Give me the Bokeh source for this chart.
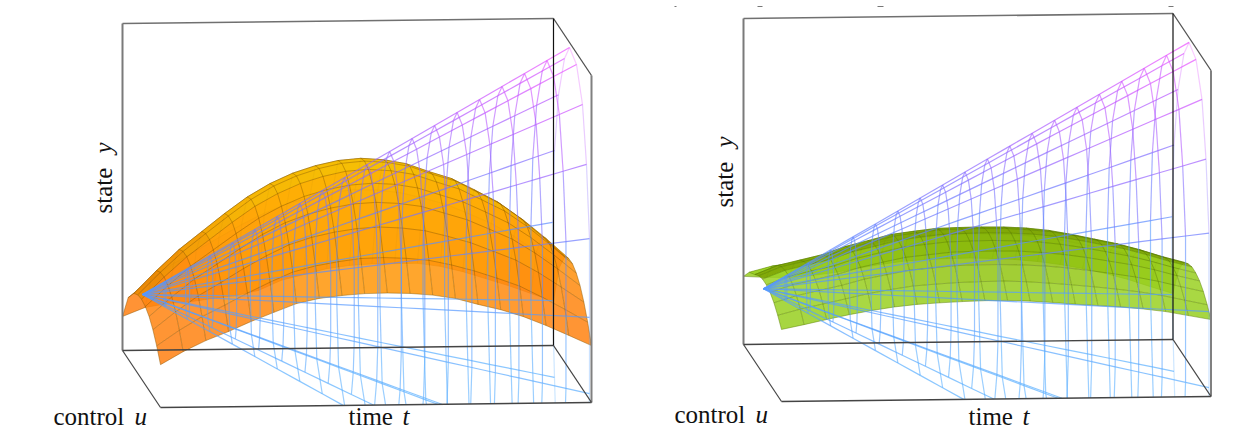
from bokeh.plotting import figure
from bokeh.models import Range1d
from bokeh.core.properties import value
from bokeh.embed import file_html
from bokeh.resources import INLINE
import math

# control rows of the surfaces
U_ROWS = [0, .15, .3, .4, .5, .6, .7, .8, .9, 1]
# state on the surface: one list per time station, one value per control row
ORANGE_STATE = [
 [.104,.188,.227,.240,.244,.239,.226,.203,.171,.131],
 [.131,.243,.296,.308,.311,.302,.285,.257,.218,.170],
 [.142,.290,.360,.371,.372,.361,.339,.305,.259,.203],
 [.147,.329,.414,.425,.424,.410,.384,.345,.293,.230],
 [.156,.368,.468,.478,.476,.459,.430,.387,.329,.260],
 [.164,.407,.518,.528,.524,.505,.473,.425,.362,.287],
 [.179,.441,.558,.568,.562,.541,.508,.458,.392,.313],
 [.209,.469,.589,.598,.592,.570,.533,.480,.410,.328],
 [.226,.488,.611,.620,.613,.590,.551,.495,.422,.336],
 [.243,.503,.626,.635,.628,.603,.563,.505,.431,.341],
 [.252,.510,.632,.641,.633,.608,.567,.509,.433,.342],
 [.256,.508,.627,.636,.628,.604,.563,.505,.430,.340],
 [.256,.499,.614,.623,.616,.592,.553,.496,.423,.334],
 [.256,.482,.589,.598,.592,.570,.532,.478,.408,.323],
 [.246,.462,.567,.577,.570,.548,.511,.458,.389,.304],
 [.229,.433,.532,.541,.536,.516,.481,.431,.366,.287],
 [.207,.402,.495,.505,.501,.482,.450,.403,.341,.265],
 [.185,.362,.445,.455,.453,.436,.407,.364,.306,.237],
 [.160,.314,.387,.398,.397,.383,.358,.319,.268,.206],
 [.135,.264,.324,.336,.337,.326,.305,.272,.228,.174],
]
GREEN_STATE = [
 [.209,.248,.267,.281,.288,.288,.282,.268,.247,.221],
 [.205,.266,.294,.308,.314,.313,.305,.289,.265,.235],
 [.204,.276,.310,.323,.330,.329,.320,.304,.280,.250],
 [.209,.289,.326,.339,.346,.344,.336,.319,.295,.264],
 [.217,.307,.350,.363,.369,.366,.356,.337,.310,.276],
 [.229,.323,.367,.380,.385,.382,.371,.350,.322,.286],
 [.240,.339,.385,.398,.402,.398,.385,.363,.332,.293],
 [.249,.348,.394,.407,.411,.406,.392,.369,.337,.297],
 [.254,.355,.402,.415,.419,.413,.399,.375,.341,.300],
 [.256,.357,.404,.417,.421,.415,.401,.377,.343,.302],
 [.257,.358,.405,.418,.422,.416,.401,.377,.344,.302],
 [.255,.356,.404,.417,.420,.414,.400,.375,.341,.299],
 [.251,.352,.400,.412,.416,.410,.395,.371,.336,.294],
 [.244,.345,.392,.405,.408,.402,.388,.364,.330,.288],
 [.234,.333,.379,.392,.396,.391,.378,.355,.323,.283],
 [.221,.318,.364,.377,.382,.378,.366,.345,.315,.278],
 [.205,.303,.349,.362,.368,.364,.354,.334,.306,.271],
 [.186,.284,.330,.343,.349,.347,.338,.320,.294,.262],
 [.163,.262,.308,.321,.328,.327,.319,.303,.279,.249],
 [.141,.242,.289,.302,.310,.309,.302,.287,.264,.236],
]
# the wire cage: every line leaves (APEX_U, APEX_Y) at t=0 and ends at the t=1 values
APEX_U, APEX_Y = .526, .263
END_U = [.421,.079,.026,-.026,-.026,.026,.132,.289,.421,.605,.763,.868,.947,.947,.947,.895,.789]
END_Y = [-.492,-.301,-.093,.133,.372,.601,.790,.928,.985,.965,.870,.705,.492,.251,.018,-.187,-.352]
N_STATIONS = 20

def project(box, t, u, y):
    ox, oy, tx, ty, ux, uy, yy = box
    return ox + tx*t + ux*u, oy + ty*t + uy*u - yy*y

def clip(a, b, hull):
    t0, t1 = 0.0, 1.0
    dx, dy = b[0]-a[0], b[1]-a[1]
    n = len(hull)
    for i in range(n):
        p_, q = hull[i], hull[(i+1) % n]
        ex, ey = q[0]-p_[0], q[1]-p_[1]
        nx, ny = -ey, ex
        f = nx*(a[0]-p_[0]) + ny*(a[1]-p_[1])
        g = nx*dx + ny*dy
        if abs(g) < 1e-9:
            if f < 0:
                return None
        else:
            s = -f/g
            if g > 0:
                t0 = max(t0, s)
            else:
                t1 = min(t1, s)
    if t0 >= t1:
        return None
    return (a[0]+t0*dx, a[1]+t0*dy), (a[0]+t1*dx, a[1]+t1*dy)

def mix(ramp, y):
    y = max(ramp[0][0], min(ramp[-1][0], y))
    for (a, ca), (b, cb) in zip(ramp, ramp[1:]):
        if y <= b:
            f = (y-a)/(b-a)
            return tuple(ca[i]+f*(cb[i]-ca[i]) for i in range(3))

def hexcol(c):
    return "#%02x%02x%02x" % tuple(int(v) for v in c)

WIRE_RAMP = [(0,(90,175,255)), (.3,(85,150,255)), (.5,(110,120,255)), (.8,(190,85,255)), (1,(245,80,255))]
ORANGE_RAMP = [(.1,(255,125,20)), (.3,(255,135,15)), (.42,(255,158,5)), (.55,(255,172,0)), (.65,(250,182,0))]
ORANGE_RIDGE = [(.2,(228,125,0)), (.35,(240,150,0)), (.5,(245,180,0)), (.65,(245,192,0))]
GREEN_RAMP = [(.2,(150,205,30)), (.3,(155,210,35)), (.37,(145,195,15)), (.43,(130,175,0))]
GREEN_RIDGE = [(.2,(125,165,0)), (.43,(122,162,0))]

p = figure(width=1240, height=430, x_range=Range1d(0, 1240), y_range=Range1d(430, 0),
           output_backend="svg", toolbar_location=None, min_border=0)
p.axis.visible = False
p.grid.visible = False
p.outline_line_color = None
p.background_fill_color = "white"

def panel(box, state, ramp, ridge, grid_col):
    st = lambda k: k/(N_STATIONS-1)
    for r0, r1 in ((0, 2), (2, len(U_ROWS)-1)):
        xs, ys, cols = [], [], []
        for k in range(N_STATIONS-1):
            for r in range(r0, r1):
                pts = [project(box, st(k), U_ROWS[r], state[k][r]),
                       project(box, st(k+1), U_ROWS[r], state[k+1][r]),
                       project(box, st(k+1), U_ROWS[r+1], state[k+1][r+1]),
                       project(box, st(k), U_ROWS[r+1], state[k][r+1])]
                xs.append([q[0] for q in pts]); ys.append([q[1] for q in pts])
                y = (state[k][r]+state[k+1][r]+state[k][r+1]+state[k+1][r+1])/4
                cols.append(hexcol(mix(ridge if r in (2, 3) else ramp, y)))
        p.patches(xs, ys, fill_color=cols, fill_alpha=.85, line_color=cols, line_alpha=.3, line_width=.3)
        lx, ly = [], []
        for r in range(r0, r1+1):
            pts = [project(box, st(k), U_ROWS[r], state[k][r]) for k in range(N_STATIONS)]
            lx.append([q[0] for q in pts]); ly.append([q[1] for q in pts])
        for k in range(N_STATIONS):
            pts = [project(box, st(k), U_ROWS[r], state[k][r]) for r in range(r0, r1+1)]
            lx.append([q[0] for q in pts]); ly.append([q[1] for q in pts])
        p.multi_line(lx, ly, line_color=grid_col, line_alpha=.4, line_width=1)

    hull = [project(box, *c) for c in ((0,0,0),(0,0,1),(1,0,1),(1,1,1),(1,1,0),(0,1,0))]
    n = len(END_U)
    sx, sy, sc, sa = [], [], [], []
    def add(t0, u0, y0, t1, u1, y1, alpha):
        seg = clip(project(box, t0, u0, y0), project(box, t1, u1, y1), hull)
        if seg:
            sx.append([seg[0][0], seg[1][0]]); sy.append([seg[0][1], seg[1][1]])
            sc.append(hexcol(mix(WIRE_RAMP, max(0, min(1, (y0+y1)/2))))); sa.append(alpha)
    def pos(j, t):
        return APEX_U+t*(END_U[j]-APEX_U), APEX_Y+t*(END_Y[j]-APEX_Y)
    for j in range(n):
        for k in range(N_STATIONS-1):
            u0, y0 = pos(j, st(k)); u1, y1 = pos(j, st(k+1))
            add(st(k), u0, y0, st(k+1), u1, y1, .7)
    for k in range(1, N_STATIONS):
        a = .6 if k < N_STATIONS-1 else .3
        for j in range(n-1):
            u0, y0 = pos(j, st(k)); u1, y1 = pos(j+1, st(k))
            add(st(k), u0, y0, st(k), u1, y1, a)
    p.multi_line(sx, sy, line_color=sc, line_alpha=sa, line_width=1.2)

    for c0, c1, col, w in (((0,0,0),(0,0,1),"#7a7a7a",2), ((0,0,1),(1,0,1),"#707070",1.6),
                           ((0,0,0),(1,0,0),"#444444",1.4), ((0,0,0),(0,1,0),"#444444",1.2),
                           ((0,1,0),(1,1,0),"#444444",1.5), ((1,1,0),(1,1,1),"#808080",2),
                           ((1,0,1),(1,1,1),"#505050",1.3), ((1,0,0),(1,1,0),"#444444",1.3),
                           ((1,0,0),(1,0,1),"#111111",1.2)):
        a, b = project(box, *c0), project(box, *c1)
        p.line([a[0], b[0]], [a[1], b[1]], line_color=col, line_width=w)

panel((122, 350, 431, -5, 38, 57, 327), ORANGE_STATE, ORANGE_RAMP, ORANGE_RIDGE, "#7a5200")
panel((743, 344, 429.5, -5, 38, 57, 326), GREEN_STATE, GREEN_RAMP, GREEN_RIDGE, "#4f7000")

SERIF = value("Liberation Serif")
FS = "25px"
def label(x, y, txt, style="normal", angle=0):
    p.text([x], [y], text=[txt], text_font=SERIF, text_font_size=FS, text_font_style=style,
           text_color="#111111", text_baseline="middle", text_align="left", angle=angle)

label(53, 416, "control"); label(134, 416, "u", "italic")
label(348, 416, "time"); label(402, 416, "t", "italic")
label(103, 213, "state", angle=math.pi/2); label(103, 153, "y", "italic", math.pi/2)
label(674, 414, "control"); label(755, 414, "u", "italic")
label(968, 416, "time"); label(1022, 416, "t", "italic")
label(724, 207, "state", angle=math.pi/2); label(724, 147, "y", "italic", math.pi/2)

for x0, x1 in ((674, 676), (757, 762), (877, 883), (1168, 1173)):
    p.line([x0, x1], [6, 6], line_color="#777777", line_width=1)

open("out.html", "w").write(file_html(p, INLINE))
